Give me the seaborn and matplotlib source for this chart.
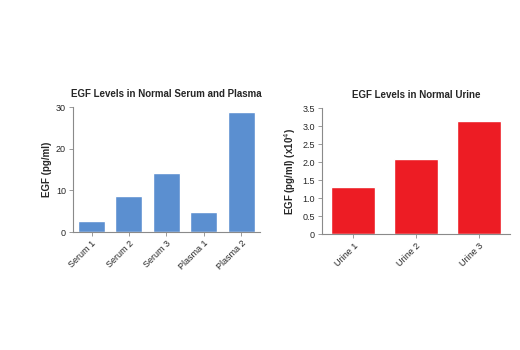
import matplotlib
matplotlib.use("Agg")
import matplotlib.pyplot as plt
import seaborn as sns

serum_plasma_labels = ["Serum 1", "Serum 2", "Serum 3", "Plasma 1", "Plasma 2"]
serum_plasma_values = [2.6, 8.7, 14.2, 4.7, 28.8]
urine_labels = ["Urine 1", "Urine 2", "Urine 3"]
urine_values = [1.3, 2.1, 3.15]
left_yticks = [0, 10, 20, 30]
right_yticks = [0, 0.5, 1.0, 1.5, 2.0, 2.5, 3.0, 3.5]
right_yticklabels = ["0", "0.5", "1.0", "1.5", "2.0", "2.5", "3.0", "3.5"]

sns.set_theme(style="white")
plt.rcParams["font.family"] = ["Liberation Sans", "DejaVu Sans"]

fig = plt.figure(figsize=(5.2, 3.5), dpi=100)
ax1 = fig.add_axes([0.140, 0.337, 0.360, 0.357])
ax2 = fig.add_axes([0.619, 0.331, 0.362, 0.360])

blue = "#5b8fd0"
red = "#ed1c24"
axis_gray = "#8a8a8a"

sns.barplot(x=serum_plasma_labels, y=serum_plasma_values, color=blue, saturation=1,
            width=0.72, ax=ax1)
sns.barplot(x=urine_labels, y=urine_values, color=red, saturation=1, width=0.7, ax=ax2)

def style(ax, title, ylabel, yticks, ylim, yticklabels=None):
    ax.set_xlim(-0.5, len(ax.get_xticks()) - 0.5)
    ax.set_ylim(*ylim)
    ax.set_yticks(yticks)
    if yticklabels is not None:
        ax.set_yticklabels(yticklabels)
    for s in ["top", "right"]:
        ax.spines[s].set_visible(False)
    for s in ["left", "bottom"]:
        ax.spines[s].set_color(axis_gray)
        ax.spines[s].set_linewidth(0.8)
    ax.tick_params(axis="both", which="both", length=3, width=0.6, color=axis_gray,
                   labelsize=6.5, pad=2, bottom=True, left=True)
    plt.setp(ax.get_xticklabels(), rotation=45, ha="right", rotation_mode="anchor")
    ax.set_title(title, fontsize=7, fontweight="bold", pad=7)
    ax.set_ylabel(ylabel, fontsize=7, fontweight="bold", labelpad=3)
    ax.set_xlabel("")

style(ax1, "EGF Levels in Normal Serum and Plasma", "EGF (pg/ml)", left_yticks, (0, 30))
style(ax2, "EGF Levels in Normal Urine", "EGF (pg/ml) (x10$^4$)", right_yticks, (0, 3.5),
      right_yticklabels)

fig.savefig("out.png", dpi=100)
